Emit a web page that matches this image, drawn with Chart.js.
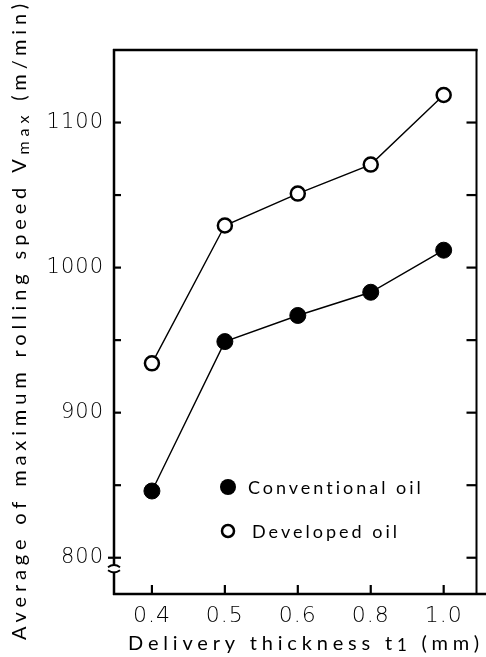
<!DOCTYPE html>
<html>
<head>
<meta charset="utf-8">
<script src="https://cdn.jsdelivr.net/npm/chart.js@4/dist/chart.umd.min.js"></script>
<style>
  html, body { margin: 0; padding: 0; background: #fff; }
  #wrap { width: 486px; height: 657px; }
</style>
</head>
<body>
<div id="wrap"><canvas id="c" width="486" height="657"></canvas></div>
<script>
// Delivery thickness t1 (mm) categories
const thicknessLabels = ['0.4', '0.5', '0.6', '0.8', '1.0'];
// Average of maximum rolling speed Vmax (m/min)
const conventionalOil = [846, 949, 967, 983, 1012];
const developedOil = [934, 1029, 1051, 1071, 1119];
// Labelled speed values and all tick marks on the vertical axes
const speedLabels = [800, 900, 1000, 1100];
const speedMarks = [800, 850, 900, 950, 1000, 1050, 1100];

const FONT = 'Lato, "Open Sans", sans-serif';
const DIGIT_FONT = '"DejaVu Sans", sans-serif';

function toPoints(values) {
  return values.map((v, i) => ({ x: i, y: v }));
}

// Draw a run of text pieces so that the whole run spans `width`,
// spreading the characters evenly (pieces may be smaller / shifted for subscripts).
function spacedRun(ctx, parts, x0, y0, width) {
  let natural = 0, chars = 0;
  ctx.letterSpacing = '0px';
  for (const p of parts) {
    ctx.font = `${p.size}px ${FONT}`;
    p.w = ctx.measureText(p.text).width;
    natural += p.w;
    chars += p.text.length;
  }
  const gap = (width - natural) / (chars - 1);
  let x = x0;
  for (const p of parts) {
    ctx.font = `${p.size}px ${FONT}`;
    ctx.letterSpacing = gap + 'px';
    ctx.fillText(p.text, x, y0 + (p.shift || 0));
    x += p.w + gap * p.text.length;
  }
  ctx.letterSpacing = '0px';
}

const framePlugin = {
  id: 'frame',
  beforeDraw(chart) {
    chart.ctx.letterSpacing = '1px';
  },
  afterDraw(chart) {
    const { ctx, chartArea: a, scales: { x, y } } = chart;
    const line = (x1, y1, x2, y2) => {
      ctx.beginPath(); ctx.moveTo(x1, y1); ctx.lineTo(x2, y2); ctx.stroke();
    };
    ctx.save();
    ctx.letterSpacing = '0px';
    ctx.strokeStyle = '#000';
    ctx.fillStyle = '#000';

    // top and bottom border
    ctx.lineWidth = 2.5;
    line(a.left - 1, a.top, a.right + 1, a.top);
    line(a.left - 1, a.bottom, chart.width, a.bottom);

    // left axis with a break just below 800
    const y800 = y.getPixelForValue(800);
    const brk1 = y800 + 8, brk2 = y800 + 14;
    line(a.left, a.top - 1, a.left, brk1);
    line(a.left, brk2, a.left, a.bottom + 1);
    ctx.lineWidth = 1.8;
    ctx.beginPath();
    ctx.moveTo(a.left - 6, brk1 + 1.5);
    ctx.quadraticCurveTo(a.left, brk1 - 3, a.left + 6, brk1 + 1.5);
    ctx.stroke();
    ctx.beginPath();
    ctx.moveTo(a.left - 6, brk2 - 1.5);
    ctx.quadraticCurveTo(a.left, brk2 + 3, a.left + 6, brk2 - 1.5);
    ctx.stroke();

    // right border
    ctx.lineWidth = 2;
    line(a.right, a.top - 1, a.right, a.bottom + 1);

    // inward tick marks
    ctx.lineWidth = 2.2;
    for (const v of speedMarks) {
      const py = y.getPixelForValue(v);
      line(a.left - (v === 800 ? 6 : 0), py, a.left + 7, py);
      line(a.right - 10, py, a.right, py);
    }
    thicknessLabels.forEach((_, i) => {
      const px = x.getPixelForValue(i);
      line(px, a.bottom, px, a.bottom - 9);
    });

    // legend
    const ds = chart.data.datasets;
    ctx.beginPath();
    ctx.arc(228, 487, 8, 0, Math.PI * 2);
    ctx.fillStyle = ds[0].pointBackgroundColor;
    ctx.fill();
    ctx.beginPath();
    ctx.arc(228, 531, 6, 0, Math.PI * 2);
    ctx.fillStyle = ds[1].pointBackgroundColor;
    ctx.fill();
    ctx.lineWidth = 2.5;
    ctx.strokeStyle = ds[1].pointBorderColor;
    ctx.stroke();
    ctx.fillStyle = '#000';
    ctx.textBaseline = 'alphabetic';
    ctx.textAlign = 'left';
    spacedRun(ctx, [{ text: ds[0].label, size: 18 }], 248, 494, 173);
    spacedRun(ctx, [{ text: ds[1].label, size: 18 }], 252, 538, 145);

    // axis titles
    spacedRun(ctx, [
      { text: 'Delivery thickness t', size: 20 },
      { text: '1', size: 17, shift: 1 },
      { text: ' (mm)', size: 20 }
    ], 128, 650, 351);

    ctx.save();
    ctx.translate(26, 640);
    ctx.rotate(-Math.PI / 2);
    spacedRun(ctx, [
      { text: 'Average of maximum rolling speed V', size: 20 },
      { text: 'max', size: 16, shift: 3 },
      { text: ' (m/min)', size: 20 }
    ], 0, 0, 636);
    ctx.restore();

    ctx.restore();
  }
};

new Chart(document.getElementById('c'), {
  type: 'line',
  data: {
    datasets: [
      {
        label: 'Conventional oil',
        data: toPoints(conventionalOil),
        borderColor: '#000',
        borderWidth: 1.4,
        pointRadius: 8,
        pointBackgroundColor: '#000',
        pointBorderColor: '#000',
        pointBorderWidth: 1,
        tension: 0
      },
      {
        label: 'Developed oil',
        data: toPoints(developedOil),
        borderColor: '#000',
        borderWidth: 1.4,
        pointRadius: 7,
        pointBackgroundColor: '#fff',
        pointBorderColor: '#000',
        pointBorderWidth: 2.5,
        tension: 0
      }
    ]
  },
  options: {
    responsive: false,
    animation: false,
    events: [],
    layout: { padding: { top: 50, right: 2, left: 0, bottom: 0 } },
    plugins: { legend: { display: false }, tooltip: { enabled: false } },
    scales: {
      x: {
        type: 'linear',
        min: -0.52,
        max: 4.45,
        afterFit(s) { s.height = 63; },
        afterBuildTicks(s) { s.ticks = thicknessLabels.map((_, i) => ({ value: i })); },
        grid: { display: false, drawTicks: false },
        border: { display: false },
        ticks: {
          callback: (v) => thicknessLabels[v],
          color: '#000',
          font: { family: DIGIT_FONT, size: 22, weight: 200 },
          padding: 9,
          maxRotation: 0,
          autoSkip: false
        }
      },
      y: {
        type: 'linear',
        min: 775,
        max: 1150,
        afterFit(s) { s.width = 114; },
        afterBuildTicks(s) { s.ticks = speedLabels.map(v => ({ value: v })); },
        grid: { display: false, drawTicks: false },
        border: { display: false },
        ticks: {
          callback: (v) => String(v),
          color: '#000',
          font: { family: DIGIT_FONT, size: 21, weight: 200 },
          padding: 10
        }
      }
    }
  },
  plugins: [framePlugin]
});
</script>
</body>
</html>
